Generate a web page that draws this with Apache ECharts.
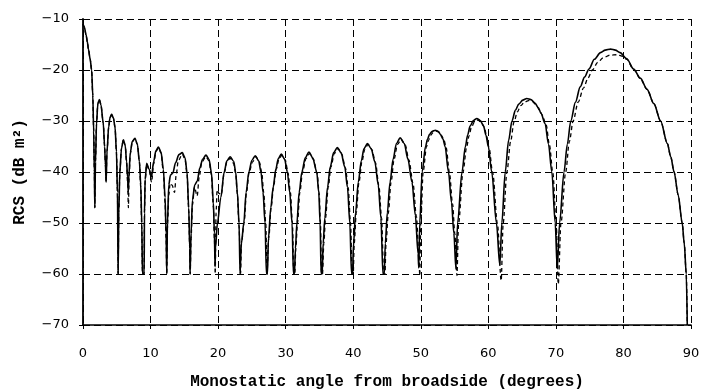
<!DOCTYPE html>
<html>
<head>
<meta charset="utf-8">
<script src="https://cdn.jsdelivr.net/npm/echarts@6/dist/echarts.min.js"></script>
<style>
html,body{margin:0;padding:0;background:#fff;}
#chart{width:708px;height:391px;}
</style>
</head>
<body>
<div id="chart"></div>
<script>
// Tick values / axis texts
var xTicks = [0, 10, 20, 30, 40, 50, 60, 70, 80, 90];
var yTicks = [-70, -60, -50, -40, -30, -20, -10];
var xTitle = 'Monostatic angle from broadside (degrees)';
var yTitle = 'RCS (dB m\u00B2)';

// Solid curve: [angle (deg), RCS (dB m^2)]
var solidCurve = [
  [0,-11.0],[0.2,-11.6],[0.45,-13.1],[0.65,-14.5],[0.8,-15.9],[1.05,-17.8],[1.28,-20],[1.45,-25],[1.58,-32],[1.68,-40],[1.75,-47],
  [1.85,-38],[2.0,-30.5],[2.2,-26.6],[2.42,-25.8],[2.65,-26.8],[3.0,-30.4],[3.2,-35],[3.32,-38.5],[3.42,-42],
  [3.55,-36],[3.8,-31.2],[4.0,-29.3],[4.25,-28.7],[4.5,-29.4],[4.74,-31.2],[4.95,-36],[5.1,-44],[5.2,-60],
  [5.3,-48],[5.45,-40],[5.7,-35.3],[5.98,-33.7],[6.25,-34.8],[6.45,-38],[6.6,-41],[6.7,-44],
  [6.8,-40.5],[7.0,-36.2],[7.3,-34],[7.7,-33.4],[8.05,-34.6],[8.35,-38],[8.55,-42.5],[8.7,-50],[8.8,-60],[9.05,-60],
  [9.1,-48],[9.2,-41.5],[9.43,-38.3],[9.8,-39.5],[10.15,-40.9],
  [10.45,-38],[10.8,-35.8],[11.16,-35.1],[11.55,-36.1],[11.9,-39.5],[12.15,-45],[12.3,-52],[12.4,-60],
  [12.5,-50],[12.7,-42.5],[12.95,-40.6],[13.3,-40.2],[13.7,-38.2],[14.2,-36.6],[14.7,-36.2],[15.1,-37.2],[15.4,-40],[15.65,-47],[15.8,-55],[15.85,-60],
  [16.0,-52],[16.2,-45.5],[16.55,-42.5],[16.9,-41.8],[17.3,-39.2],[17.7,-37.5],[18.2,-36.7],[18.65,-37.5],[19.0,-40],[19.3,-46],[19.45,-52],[19.55,-58.6],
  [19.6,-55],[19.9,-50],[20.4,-45],[20.9,-40],[21.3,-37.8],[21.8,-37],[22.3,-37.9],[22.6,-40],[22.85,-44],[23.1,-50],[23.25,-60],[23.35,-60],
  [23.45,-54],[23.8,-50],[24.15,-44],[24.55,-40],[25.0,-37.7],[25.5,-36.8],[26.0,-37.8],[26.35,-40],[26.65,-44],[26.95,-50],[27.15,-60],[27.3,-60],
  [27.45,-53],[27.8,-47],[28.15,-43],[28.55,-39.4],[28.9,-37.4],[29.35,-36.5],[29.85,-37.5],[30.25,-40],[30.6,-44],[30.95,-50],[31.15,-60],[31.3,-60],
  [31.45,-55],[31.66,-50],[32.0,-44],[32.4,-40],[32.9,-37.2],[33.45,-36.1],[34.0,-37.2],[34.6,-40],[34.9,-44],[35.1,-50],[35.25,-60],[35.4,-60],
  [35.55,-54],[35.8,-49],[36.2,-43],[36.6,-39],[37.1,-36.2],[37.65,-35.2],[38.2,-36.2],[38.75,-39],[39.15,-43],[39.5,-50],[39.75,-60],[39.9,-60],
  [40.05,-54],[40.35,-48],[40.75,-42],[41.2,-37.8],[41.6,-35.4],[42.1,-34.4],[42.65,-35.4],[43.2,-38],[43.7,-42.5],[44.1,-49],[44.4,-60],[44.6,-60],
  [44.75,-54],[45.05,-48],[45.45,-42],[45.9,-37.5],[46.4,-34.4],[46.95,-33.3],[47.55,-34.4],[48.1,-37.5],[48.7,-42],[49.2,-48.5],[49.6,-56],[49.7,-58.8],
  [49.85,-50],[50.2,-40],[50.7,-35],[51.0,-33.6],[51.3,-32.6],[51.7,-32.0],[52.15,-31.8],[52.55,-32.0],[52.9,-32.6],[53.3,-33.6],[53.6,-35],[54.1,-40],[54.55,-46],[54.9,-52],[55.2,-59],
  [55.45,-50],[56.1,-40],[56.6,-35],[56.95,-32.7],[57.3,-31],[57.8,-29.9],[58.3,-29.5],[58.8,-29.9],[59.3,-31],[59.65,-32.8],[60.0,-35],[60.5,-40],[61.2,-50],[61.7,-58.3],
  [62.0,-50],[62.5,-40],[63.0,-33.8],[63.5,-30],[64.0,-27.9],[64.5,-26.7],[65.1,-25.9],[65.7,-25.6],[66.3,-25.8],[66.9,-26.5],[67.4,-27.4],[67.8,-28.5],[68.4,-30.5],[68.9,-34.5],[69.4,-40],[69.9,-50],[70.2,-59],
  [70.55,-50],[71.2,-40],[71.7,-34.5],[72.2,-30],[72.9,-26.3],[73.6,-23.3],[74.25,-21.4],[74.9,-19.8],[75.7,-17.9],[76.6,-16.6],[77.3,-16.1],[78.1,-15.9],[78.8,-16.1],[79.5,-16.6],[80.5,-17.8],[81.5,-19.8],[82.5,-21.6],[83.5,-23.8],[84.5,-26.6],[85.5,-30],[86.5,-34.4],[87.0,-37],[87.5,-40],[88.1,-44.5],[88.7,-50],[89.0,-54],[89.3,-60],[89.45,-70]
];

// Dashed curve: [angle (deg), RCS (dB m^2)]
var dashedCurve = [
  [0,-11.0],[0.2,-11.6],[0.45,-13.1],[0.65,-14.5],[0.8,-15.9],[1.05,-17.8],[1.28,-20],[1.45,-25],[1.58,-32],[1.68,-40],[1.75,-47],
  [1.85,-38],[2.0,-30.5],[2.2,-26.6],[2.42,-25.8],[2.65,-26.8],[3.0,-30.4],[3.2,-35],[3.32,-38.5],[3.42,-42],
  [3.55,-36],[3.8,-31.2],[4.0,-29.3],[4.25,-28.7],[4.5,-29.4],[4.74,-31.2],[4.95,-36],[5.1,-44],[5.2,-60],
  [5.3,-48],[5.45,-40],[5.7,-35.3],[5.98,-33.7],[6.25,-34.8],[6.45,-38],[6.6,-42],[6.72,-47],
  [6.82,-41],[7.0,-36.5],[7.3,-34],[7.7,-33.4],[8.05,-34.6],[8.35,-38],[8.55,-43],[8.7,-51],[8.8,-60],[9.05,-60],
  [9.1,-48],[9.2,-41.5],[9.43,-38.5],[9.8,-39.8],[10.15,-42],
  [10.45,-38.5],[10.8,-36],[11.16,-35.3],[11.55,-36.3],[11.9,-40],[12.15,-46],[12.3,-53],[12.4,-60],
  [12.5,-51],[12.7,-44.5],[12.9,-42.2],[13.2,-42.6],[13.55,-44],[13.8,-40.5],[14.1,-37.8],[14.7,-36.5],[15.1,-37.5],[15.4,-40.5],[15.65,-47.5],[15.8,-55],[15.87,-60],
  [16.0,-53],[16.2,-46.5],[16.5,-43],[16.9,-44.7],[17.2,-41],[17.6,-38],[18.2,-37.0],[18.65,-37.8],[19.0,-40.5],[19.3,-47],[19.45,-53],[19.57,-60],
  [19.7,-48],[19.85,-43.5],[20.15,-44.2],[20.45,-44.5],[20.9,-40.2],[21.3,-38],[21.8,-37.3],[22.3,-38.3],[22.6,-40.3],[22.85,-44.5],[23.1,-50.5],[23.32,-60],
  [23.45,-54],[23.85,-50],[24.2,-44],[24.6,-40],[25.1,-38],[25.6,-37.0],[26.1,-38],[26.45,-40],[26.75,-44],[27.05,-50],[27.25,-60],[27.35,-60],
  [27.5,-53],[27.85,-47],[28.2,-43],[28.6,-39.5],[29.0,-37.5],[29.45,-36.7],[29.95,-37.7],[30.35,-40.2],[30.7,-44],[31.0,-50],[31.2,-60],
  [31.35,-60],[31.5,-55],[31.75,-50],[32.1,-44],[32.5,-40],[33.0,-37.4],[33.55,-36.4],[34.1,-37.5],[34.65,-40.2],[34.95,-44],[35.15,-50],[35.3,-60],
  [35.45,-60],[35.65,-54],[35.9,-49],[36.3,-43],[36.7,-39],[37.2,-36.4],[37.75,-35.4],[38.3,-36.5],[38.85,-39.2],[39.25,-43],[39.6,-50],[39.85,-60],
  [40.0,-60],[40.15,-54],[40.45,-48],[40.85,-42],[41.3,-37.9],[41.7,-35.6],[42.2,-34.6],[42.75,-35.6],[43.3,-38.2],[43.8,-42.7],[44.2,-49],[44.5,-60],
  [44.7,-60],[44.85,-54],[45.2,-48],[45.6,-42],[46.05,-37.5],[46.55,-34.6],[47.1,-33.6],[47.7,-34.7],[48.25,-37.7],[48.85,-42.2],[49.35,-48.7],[49.72,-56],[49.85,-60.3],
  [50.0,-50],[50.35,-40],[50.85,-35],[51.15,-33.8],[51.45,-32.8],[51.85,-32.2],[52.3,-32.0],[52.7,-32.2],[53.05,-32.8],[53.45,-33.8],[53.75,-35.2],[54.25,-40.2],[54.7,-46.2],[55.05,-52.2],[55.35,-60.3],
  [55.6,-50],[56.25,-40],[56.8,-35],[57.15,-32.9],[57.5,-31.2],[57.95,-30.2],[58.45,-29.8],[58.95,-30.2],[59.4,-31.2],[59.75,-33],[60.1,-35.2],[60.65,-40.2],[61.35,-50.2],[61.9,-61.3],
  [62.2,-50],[62.75,-40],[63.3,-34],[63.8,-30.2],[64.3,-28.2],[64.8,-27.0],[65.35,-26.3],[65.95,-26.0],[66.55,-26.2],[67.1,-26.9],[67.55,-27.8],[67.95,-28.8],[68.55,-30.7],[69.05,-34.7],[69.55,-40.2],[70.05,-50.2],[70.35,-62],
  [70.75,-50],[71.45,-40],[72.0,-34],[72.55,-30],[73.3,-26.3],[74.1,-23.5],[74.75,-21.6],[75.4,-20],[76.2,-18.5],[77.0,-17.6],[78.0,-17.1],[79.1,-17.0],[79.8,-17.3],[80.5,-17.9],[81.5,-19.9],[82.5,-21.7],[83.5,-23.8],[84.5,-26.6],[85.5,-30],[86.5,-34.4],[87.0,-37],[87.5,-40],[88.1,-44.5],[88.7,-50],[89.0,-54],[89.3,-60],[89.45,-70]
];

var chart = echarts.init(document.getElementById('chart'), null, {renderer: 'canvas'});
var gridDash = {color: '#000', width: 1, type: [7, 4]};
var labelFont = 'DejaVu Sans';
var titleFont = 'Liberation Mono';

chart.setOption({
  animation: false,
  backgroundColor: '#fff',
  grid: {left: 83, right: 17, top: 19, bottom: 66, containLabel: false, outerBoundsMode: 'none'},
  xAxis: {
    type: 'value',
    min: xTicks[0], max: xTicks[xTicks.length - 1], interval: 10,
    name: xTitle, nameLocation: 'middle', nameGap: 49,
    nameTextStyle: {fontFamily: titleFont, fontSize: 16, fontWeight: 'bold', color: '#000'},
    axisLine: {show: true, onZero: false, lineStyle: {color: '#000', width: 1.6}},
    axisTick: {show: true, length: 4, lineStyle: {color: '#000', width: 1}},
    axisLabel: {margin: 22, fontFamily: labelFont, fontSize: 13, color: '#000'},
    splitLine: {show: true, lineStyle: gridDash}
  },
  yAxis: {
    type: 'value',
    min: yTicks[0], max: yTicks[yTicks.length - 1], interval: 10,
    name: yTitle, nameLocation: 'middle', nameGap: 55,
    nameTextStyle: {fontFamily: titleFont, fontSize: 16, fontWeight: 'bold', color: '#000'},
    axisLine: {show: true, onZero: false, lineStyle: {color: '#000', width: 1.8}},
    axisTick: {show: true, length: 4, lineStyle: {color: '#000', width: 1}},
    axisLabel: {margin: 14, fontFamily: labelFont, fontSize: 13, color: '#000',
      formatter: function (v) { return v < 0 ? '\u2212' + Math.abs(v) : String(v); }},
    splitLine: {show: true, lineStyle: gridDash}
  },
  series: [
    {
      type: 'line', name: 'solid', data: solidCurve, showSymbol: false, symbol: 'none',
      smooth: 0.3, smoothMonotone: 'x',
      lineStyle: {color: '#000', width: 1.6, type: 'solid'}, z: 3
    },
    {
      type: 'line', name: 'dashed', data: dashedCurve, showSymbol: false, symbol: 'none',
      smooth: 0.3, smoothMonotone: 'x',
      lineStyle: {color: '#000', width: 1.3, type: [4, 3]}, z: 2
    }
  ]
});
</script>
</body>
</html>
